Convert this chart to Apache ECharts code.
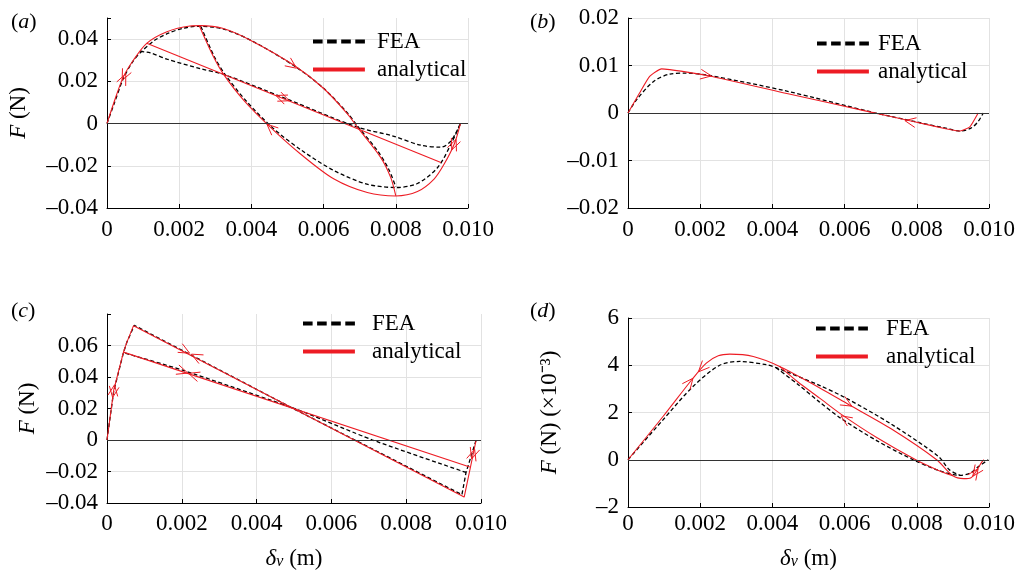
<!DOCTYPE html>
<html><head><meta charset="utf-8">
<script src="https://cdn.jsdelivr.net/npm/echarts@6/dist/echarts.min.js"></script>
<style>html,body{margin:0;padding:0;background:#fff}#c{width:1018px;height:573px}</style>
</head><body><div id="c"></div>
<script>
// ---------- tick labels ----------
const xTicks = [0, 0.002, 0.004, 0.006, 0.008, 0.010];
const aYTicks = [-0.04, -0.02, 0, 0.02, 0.04];
const bYTicks = [-0.02, -0.01, 0, 0.01, 0.02];
const cYTicks = [-0.04, -0.02, 0, 0.02, 0.04, 0.06];
const dYTicks = [-2, 0, 2, 4, 6];
const legendNames = ['FEA', 'analytical'];
const panelLetters = ['a', 'b', 'c', 'd'];

// ---------- panel (a) ----------
const aFeaArc = [[0,0],[0.0002,0.0095],[0.00045,0.0212],[0.0007,0.029],[0.00092,0.0335],[0.0013,0.0392],[0.0017,0.0428],[0.0021,0.0451],[0.0025,0.0461],[0.0032,0.0449],[0.004,0.0393],[0.0052,0.0272],[0.006,0.0167],[0.00666,0.005],[0.00694,-0.0012],[0.0075,-0.013],[0.0078,-0.0215],[0.008,-0.0300]];
const aFeaSteep = [[0.0026,0.046],[0.00297,0.0318],[0.00327,0.0233],[0.00385,0.0108],[0.0046,-0.0022],[0.0054,-0.0128],[0.0063,-0.0224],[0.0072,-0.0287],[0.008,-0.0303],[0.0086,-0.0284],[0.00916,-0.0208],[0.00953,-0.0097],[0.00979,0]];
const aFeaKink = [[0.00092,0.0342],[0.0012,0.0335],[0.00166,0.0305],[0.00258,0.026],[0.00323,0.0233],[0.0049,0.0122],[0.0069,-0.0015],[0.0079,-0.0058],[0.0087,-0.0103],[0.00925,-0.0112],[0.00953,-0.0082],[0.00979,0]];
const aAnaArc = [[0,0],[0.00018,0.0094],[0.00045,0.022],[0.00073,0.03],[0.0011,0.038],[0.00166,0.0435],[0.0023,0.0462],[0.0026,0.0464],[0.0032,0.0451],[0.00397,0.0395],[0.00518,0.0276],[0.00601,0.0165],[0.00666,0.0046],[0.00694,-0.0018],[0.00758,-0.016],[0.00786,-0.0256],[0.008,-0.0343]];
const aAnaSteep = [[0.00256,0.0462],[0.00295,0.0316],[0.00323,0.0233],[0.00379,0.011],[0.00453,-0.0018],[0.00536,-0.0144],[0.00629,-0.0263],[0.00721,-0.0327],[0.008,-0.0343],[0.0086,-0.0322],[0.00906,-0.0263],[0.00934,-0.0192],[0.00962,-0.0097],[0.00979,0]];
const aAnaLine = [[0.0011,0.038],[0.00925,-0.0184]];
const aArrows = [[0.00042,0.0205,0.00058,0.0262],[0.00052,0.0235,0.00036,0.0175],[0.00525,0.0262,0.0049,0.0305],[0.00505,0.0108,0.0045,0.0146],[0.00468,0.0133,0.0052,0.0097],[0.00443,-0.0003,0.0047,-0.0045],[0.00967,-0.0075,0.00955,-0.0125],[0.00955,-0.0125,0.00967,-0.0075]];

// ---------- panel (b) ----------
const bFea = [[0,0],[0.00023,0.0027],[0.0007,0.0066],[0.00116,0.0082],[0.0016,0.0084],[0.00226,0.0079],[0.0044,0.0046],[0.0068,0.0001],[0.008,-0.0019],[0.0088,-0.0032],[0.0092,-0.0038],[0.0095,-0.0032],[0.0097,-0.0018],[0.00984,0]];
const bAna = [[0,0],[0.00032,0.0042],[0.0006,0.0077],[0.00093,0.0093],[0.00226,0.0078],[0.0044,0.0041],[0.0066,0.0004],[0.0079,-0.0018],[0.0088,-0.0033],[0.0092,-0.0038],[0.00947,-0.0029],[0.0097,0]];
const bArrows = [[0.00231,0.0078,0.0019,0.0083],[0.00767,-0.0016,0.0081,-0.0022]];

// ---------- panel (c) ----------
const cFeaMain = [[0,0],[0.00018,0.031],[0.00044,0.0555],[0.00053,0.062],[0.00073,0.0728],[0.0051,0.0185],[0.00949,-0.0347],[0.0096,-0.0206],[0.00987,0]];
const cFeaLower = [[0.00049,0.0551],[0.00204,0.0442],[0.0051,0.0192],[0.0071,0],[0.0096,-0.0206]];
const cAnaMain = [[0,0],[0.00018,0.0316],[0.00044,0.0558],[0.00053,0.062],[0.00071,0.0726],[0.00955,-0.0362],[0.00987,0]];
const cAnaLower = [[0.00044,0.0558],[0.0097,-0.0172]];
const cArrows = [[0.00221,0.0551,0.0017,0.0616],[0.00226,0.0545,0.0028,0.0478],[0.00216,0.0425,0.0016,0.0469],[0.00218,0.0423,0.0028,0.0375],[0.0002,0.035,0.00015,0.027],[0.00015,0.027,0.0002,0.035],[0.00983,-0.006,0.00975,-0.012],[0.00975,-0.012,0.00983,-0.006]];

// ---------- panel (d) (values in 1e-3 N) ----------
const dFeaMain = [[0,0],[0.00097,1.69],[0.0018,3.1],[0.00254,4.0],[0.0031,4.16],[0.00384,4.02],[0.0041,3.9],[0.0053,3.15],[0.00605,2.6],[0.0073,1.5],[0.0086,0.14],[0.0089,-0.42],[0.0092,-0.66]];
const dFeaLower = [[0.0041,3.9],[0.0047,3.2],[0.0053,2.45],[0.0059,1.75],[0.0069,0.8],[0.0079,0],[0.0086,-0.45],[0.0092,-0.66],[0.0095,-0.55],[0.0097,-0.3],[0.00998,0]];
const dAnaMain = [[0,0],[0.00097,1.83],[0.0018,3.45],[0.00217,4.09],[0.0025,4.4],[0.00282,4.47],[0.00347,4.37],[0.0042,3.95],[0.0053,3.05],[0.0061,2.35],[0.0073,1.3],[0.00855,0],[0.009,-0.68],[0.0093,-0.8],[0.0095,-0.76],[0.00966,-0.45],[0.0098,-0.1],[0.00986,0]];
const dAnaLower = [[0.0042,3.95],[0.0047,3.3],[0.0053,2.62],[0.00593,1.9],[0.0069,0.93],[0.00797,0],[0.0086,-0.45],[0.009,-0.68]];
const dArrows = [[0.0018,3.45,0.0015,2.88],[0.00195,3.72,0.0022,4.12],[0.0062,2.27,0.0058,2.62],[0.0059,1.86,0.0063,1.45],[0.0097,-0.38,0.00955,-0.7],[0.00955,-0.7,0.0097,-0.38]];

// ---------- styles ----------
const RED = '#ed1c24';
const FONT = 'Liberation Serif';
const FS = 23;
const ICON_DASH = 'path://M0,0h9.6v4h-9.6z M14.1,0h9.6v4h-9.6z M28.2,0h9.6v4h-9.6z M42.3,0h9.6v4h-9.6z';
const ICON_SOLID = 'path://M0,0h51.9v4h-51.9z';

function inList(v, list) { return list.some(t => Math.abs(t - v) < 1e-9); }
function fmtX(v) { if (!inList(v, xTicks)) return ''; return Math.abs(v) < 1e-12 ? '0' : v.toFixed(3); }
function makeFmtY(list, dec) {
  return function (v) {
    if (!inList(v, list)) return '';
    if (Math.abs(v) < 1e-12) return '0';
    return (v < 0 ? '\u2013' : '') + Math.abs(v).toFixed(dec);
  };
}

const panels = [
  { grid:{left:107,top:18,width:361,height:190}, y:{min:-0.04,max:0.05,interval:0.02}, ticks:aYTicks, dec:2, topLine:false,
    yName:'{i|F} (N)', yGap:77, xName:'', xGap:0, labMargin:10,
    legend:{left:313,top:30,pad:7}, letter:{left:11,top:11},
    fea:[[aFeaArc,0.3],[aFeaSteep,0.3],[aFeaKink,0.3]], ana:[[aAnaArc,0.3],[aAnaSteep,0.3],[aAnaLine,0]], arrows:aArrows },
  { grid:{left:628,top:18,width:361,height:190}, y:{min:-0.02,max:0.02,interval:0.01}, ticks:bYTicks, dec:2, topLine:true,
    yName:'', yGap:0, xName:'', xGap:0, labMargin:10,
    legend:{left:817,top:32,pad:4}, letter:{left:530,top:11},
    fea:[[bFea,0.3]], ana:[[bAna,0.15]], arrows:bArrows },
  { grid:{left:107,top:314,width:374,height:189}, y:{min:-0.04,max:0.08,interval:0.02}, ticks:cYTicks, dec:2, topLine:false,
    yName:'{i|F} (N)', yGap:68, xName:'{i|\u03b4}{s|v} (m)', xGap:44, labMargin:9,
    legend:{left:303,top:312,pad:12}, letter:{left:11,top:300},
    fea:[[cFeaMain,0],[cFeaLower,0.2]], ana:[[cAnaMain,0],[cAnaLower,0]], arrows:cArrows },
  { grid:{left:628,top:318,width:361,height:189}, y:{min:-2,max:6,interval:2}, ticks:dYTicks, dec:0, topLine:true,
    yName:'{i|F} (N) (\u00d710\u207b\u00b3)', yGap:67, xName:'{i|\u03b4}{s|v} (m)', xGap:40, labMargin:5,
    legend:{left:816,top:317,pad:13}, letter:{left:530,top:300},
    fea:[[dFeaMain,0.3],[dFeaLower,0.3]], ana:[[dAnaMain,0.3],[dAnaLower,0.3]], arrows:dArrows }
];

const richName = {
  i: { fontFamily: FONT, fontSize: FS, fontStyle: 'italic', color: '#000' },
  s: { fontFamily: FONT, fontSize: 16, fontStyle: 'italic', color: '#000', verticalAlign: 'bottom', lineHeight: 16, padding: [10, 0, 0, 0] }
};

function renderArrow(params, api) {
  const head = api.coord([api.value(0), api.value(1)]);
  const tail = api.coord([api.value(2), api.value(3)]);
  const ang = Math.atan2(head[1] - tail[1], head[0] - tail[0]);
  const L = 12, sp = 0.42;
  const p1 = [head[0] - L * Math.cos(ang - sp), head[1] - L * Math.sin(ang - sp)];
  const p2 = [head[0] - L * Math.cos(ang + sp), head[1] - L * Math.sin(ang + sp)];
  return { type: 'polyline', shape: { points: [p1, head, p2] }, style: { stroke: RED, lineWidth: 1, fill: null } };
}

const grids = [], xAxes = [], yAxes = [], series = [], legends = [], graphics = [];
panels.forEach((p, i) => {
  grids.push(Object.assign({ containLabel: false }, p.grid));
  xAxes.push({
    type: 'value', gridIndex: i, min: 0, max: 0.010, interval: 0.002,
    name: p.xName, nameLocation: 'middle', nameGap: p.xGap,
    nameTextStyle: { fontFamily: FONT, fontSize: FS, color: '#000', rich: richName },
    axisLine: { show: true, onZero: false, lineStyle: { color: '#000', width: 1 } },
    axisTick: { show: true, inside: true, length: 4, lineStyle: { color: '#000' } },
    axisLabel: { formatter: fmtX, fontFamily: FONT, fontSize: FS, color: '#000', margin: p.labMargin, showMinLabel: true, showMaxLabel: true, hideOverlap: false },
    splitLine: { show: true, lineStyle: { color: '#e2e2e2', width: 1 } }
  });
  yAxes.push({
    type: 'value', gridIndex: i, min: p.y.min, max: p.y.max, interval: p.y.interval,
    name: p.yName, nameLocation: 'middle', nameGap: p.yGap,
    nameTextStyle: { fontFamily: FONT, fontSize: FS, color: '#000', rich: richName },
    axisLine: { show: true, onZero: false, lineStyle: { color: '#000', width: 1 } },
    axisTick: { show: true, inside: true, length: 4, lineStyle: { color: '#000' } },
    axisLabel: { formatter: makeFmtY(p.ticks, p.dec), fontFamily: FONT, fontSize: FS, color: '#000', margin: 9, showMinLabel: true, showMaxLabel: true, hideOverlap: false },
    splitLine: { show: true, showMaxLine: p.topLine, lineStyle: { color: '#e2e2e2', width: 1 } }
  });
  p.fea.forEach((seg, k) => {
    const s = {
      type: 'line', name: 'FEA', xAxisIndex: i, yAxisIndex: i, data: seg[0], smooth: seg[1],
      symbol: 'none', z: 3, lineStyle: { color: '#000', width: 1.3, type: [4, 2.5] }, itemStyle: { color: '#000' }
    };
    if (k === 0) {
      s.markLine = { silent: true, symbol: 'none', label: { show: false }, animation: false,
        lineStyle: { color: '#333', width: 1.2, type: 'solid' }, data: [{ yAxis: 0 }] };
    }
    series.push(s);
  });
  p.ana.forEach(seg => {
    series.push({
      type: 'line', name: 'analytical', xAxisIndex: i, yAxisIndex: i, data: seg[0], smooth: seg[1],
      symbol: 'none', z: 4, lineStyle: { color: RED, width: 1.1 }, itemStyle: { color: RED }
    });
  });
  series.push({ type: 'custom', xAxisIndex: i, yAxisIndex: i, data: p.arrows, renderItem: renderArrow, z: 5, silent: true, clip: false, encode: { x: 0, y: 1 } });
  legends.push({
    orient: 'vertical', left: p.legend.left, top: p.legend.top, itemWidth: 52, itemHeight: 4, itemGap: 5,
    selectedMode: false, padding: 0,
    textStyle: { fontFamily: FONT, fontSize: FS, color: '#000', padding: [0, 0, 0, p.legend.pad] },
    data: [
      { name: legendNames[0], icon: ICON_DASH, itemStyle: { color: '#000' } },
      { name: legendNames[1], icon: ICON_SOLID, itemStyle: { color: RED } }
    ]
  });
  graphics.push({
    type: 'text', left: p.letter.left, top: p.letter.top,
    style: { text: '({i|' + panelLetters[i] + '})', fontFamily: FONT, fontSize: 22, fill: '#000',
      rich: { i: { fontFamily: FONT, fontSize: 22, fontStyle: 'italic', fill: '#000' } } }
  });
});

const chart = echarts.init(document.getElementById('c'), null, { renderer: 'canvas' });
chart.setOption({
  animation: false,
  backgroundColor: '#fff',
  grid: grids, xAxis: xAxes, yAxis: yAxes, series: series, legend: legends, graphic: graphics
});
</script>
</body></html>
